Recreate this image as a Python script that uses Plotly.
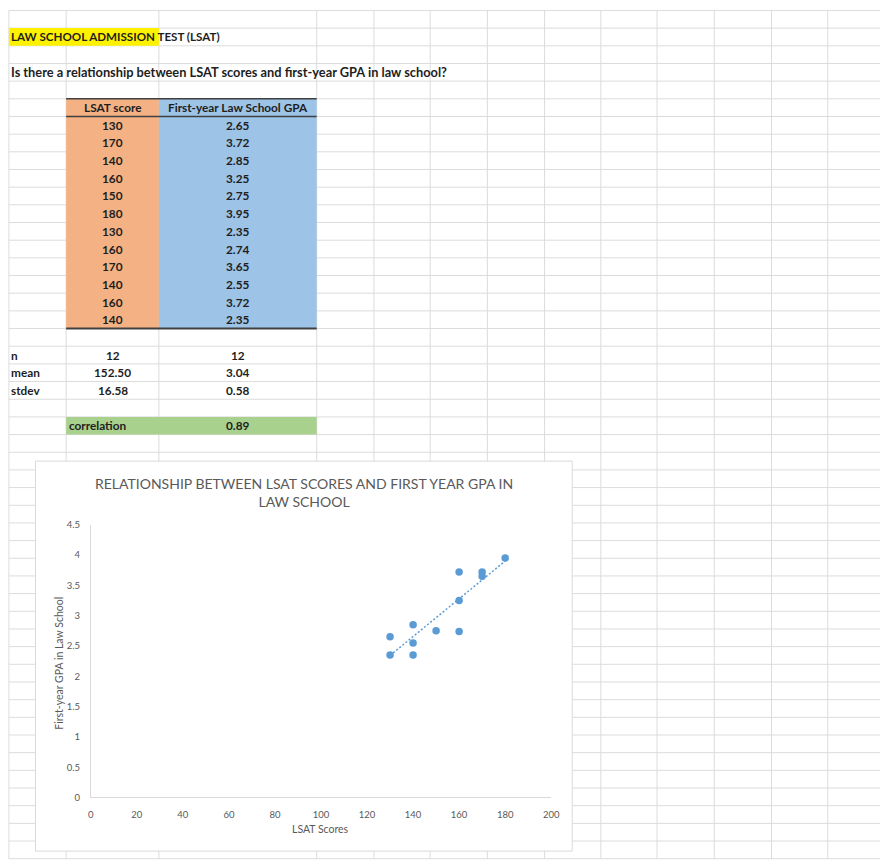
import numpy as np
import plotly.graph_objects as go

# ---------------- data ----------------
lsat_scores = [130, 170, 140, 160, 150, 180, 130, 160, 170, 140, 160, 140]
gpa_values = [2.65, 3.72, 2.85, 3.25, 2.75, 3.95, 2.35, 2.74, 3.65, 2.55, 3.72, 2.35]
header_labels = ["LSAT score", "First-year Law School GPA"]
stat_labels = ["n", "mean", "stdev"]
lsat_stats = ["12", "152.50", "16.58"]
gpa_stats = ["12", "3.04", "0.58"]
correlation_label = "correlation"
correlation_value = "0.89"
x_ticks = [0, 20, 40, 60, 80, 100, 120, 140, 160, 180, 200]
y_ticks = [0, 0.5, 1, 1.5, 2, 2.5, 3, 3.5, 4, 4.5]

sheet_title = "LAW SCHOOL ADMISSION TEST (LSAT)"
sheet_question = "Is there a relationship between LSAT scores and first-year GPA in law school?"
chart_title = "RELATIONSHIP BETWEEN LSAT SCORES AND FIRST YEAR GPA IN<br>LAW SCHOOL"
x_title = "LSAT Scores"
y_title = "First-year GPA in Law School"

# ---------------- geometry ----------------
W, H = 889, 864
FONT = "Lato, Carlito, Calibri, sans-serif"
col_edges = [6, 64, 158, 318, 376, 433, 491, 549, 606, 663, 721, 779, 836, 889]
row_top0 = 4.5
row_h = 17.9
n_rows = 48


def px(x):
    return x / W


def py(y):
    return 1 - y / H


def row_top(r):  # r is 1-based spreadsheet row
    return row_top0 + row_h * (r - 1)


def row_mid(r):
    return row_top(r) + row_h / 2


shapes = []
annotations = []

GRID = "#DCDCDC"
for r in range(1, n_rows + 2):
    y = row_top(r)
    if y > H:
        break
    shapes.append(dict(type="line", xref="paper", yref="paper", x0=px(col_edges[0]), x1=1,
                       y0=py(y), y1=py(y), line=dict(color=GRID, width=1), layer="below"))
for x in col_edges[:-1]:
    shapes.append(dict(type="line", xref="paper", yref="paper", x0=px(x), x1=px(x),
                       y0=py(row_top0), y1=0, line=dict(color=GRID, width=1), layer="below"))


def rect(x0, y0, x1, y1, fill, line_color=None, lw=0):
    shapes.append(dict(type="rect", xref="paper", yref="paper", x0=px(x0), x1=px(x1),
                       y0=py(y1), y1=py(y0), fillcolor=fill,
                       line=dict(color=line_color or fill, width=lw), layer="below"))


def hline(x0, x1, y, color, width):
    shapes.append(dict(type="line", xref="paper", yref="paper", x0=px(x0), x1=px(x1),
                       y0=py(y), y1=py(y), line=dict(color=color, width=width), layer="below"))


first_data_row = 7
last_data_row = first_data_row + len(lsat_scores) - 1

rect(col_edges[0], row_top(2), col_edges[2], row_top(3), "#FFF200")
rect(col_edges[1], row_top(6), col_edges[2], row_top(last_data_row + 1), "#F4B183")
rect(col_edges[2], row_top(6), col_edges[3], row_top(last_data_row + 1), "#9DC3E6")
rect(col_edges[1], row_top(24), col_edges[3], row_top(25), "#A9D18E")
hline(col_edges[1], col_edges[3], row_top(6), "#404040", 1.5)
hline(col_edges[1], col_edges[3], row_top(7), "#404040", 1.5)
hline(col_edges[1], col_edges[3], row_top(last_data_row + 1), "#404040", 2)

CX0, CY0, CX1, CY1 = 33, 461, 577, 856
rect(CX0, CY0, CX1, CY1, "white", "#D9D9D9", 1)

TXT = "#1E1E1E"


def text(x, y, s, xanchor="center", size=11.8, bold=True, color=TXT):
    annotations.append(dict(x=px(x), y=py(y), xref="paper", yref="paper", text=s,
                            showarrow=False, xanchor=xanchor, yanchor="middle",
                            font=dict(family=FONT, size=size, color=color,
                                      weight="bold" if bold else "normal")))


col_b_mid = (col_edges[1] + col_edges[2]) / 2
col_c_mid = (col_edges[2] + col_edges[3]) / 2

text(6, row_mid(2), sheet_title, "left", size=11.6)
text(6, row_mid(4), sheet_question, "left", size=12.8)
text(col_b_mid, row_mid(6), header_labels[0])
text(col_c_mid, row_mid(6), header_labels[1])
for i, (a, b) in enumerate(zip(lsat_scores, gpa_values)):
    r = first_data_row + i
    text(col_b_mid, row_mid(r), str(a))
    text(col_c_mid, row_mid(r), f"{b:.2f}")
for i, lab in enumerate(stat_labels):
    r = 20 + i
    text(6, row_mid(r), lab, "left")
    text(col_b_mid, row_mid(r), lsat_stats[i])
    text(col_c_mid, row_mid(r), gpa_stats[i])
text(col_edges[1] + 1, row_mid(24), correlation_label, "left")
text(col_c_mid, row_mid(24), correlation_value)

GRAYTXT = "#595959"
PX0, PX1 = 89, 555.7
PY_BOTTOM, PY_TOP = 801.7, 525.4
text((PX0 + PX1) / 2 - 17, 493, chart_title, size=14, bold=False, color=GRAYTXT)
text((PX0 + PX1) / 2, 834, x_title, size=10.5, bold=False, color=GRAYTXT)
annotations.append(dict(x=px(56), y=py(666), xref="paper", yref="paper",
                        text=y_title, showarrow=False, textangle=-90,
                        xanchor="center", yanchor="middle",
                        font=dict(family=FONT, size=10.5, color=GRAYTXT)))

# ---------------- traces ----------------
slope, intercept = np.polyfit(lsat_scores, gpa_values, 1)
trend_x = [min(lsat_scores), max(lsat_scores)]
trend_y = [slope * v + intercept for v in trend_x]

fig = go.Figure()
fig.add_trace(go.Scatter(x=trend_x, y=trend_y, mode="lines",
                         line=dict(color="#5B9BD5", width=1.5, dash="2px,2px"),
                         hoverinfo="skip", showlegend=False))
fig.add_trace(go.Scatter(x=lsat_scores, y=gpa_values, mode="markers",
                         marker=dict(color="#5B9BD5", size=7.5),
                         showlegend=False))

fig.update_layout(
    width=W, height=H,
    margin=dict(l=0, r=0, t=0, b=0),
    paper_bgcolor="white",
    plot_bgcolor="rgba(0,0,0,0)",
    shapes=shapes,
    annotations=annotations,
    showlegend=False,
    xaxis=dict(domain=[px(PX0), px(PX1)], range=[0, 200], tickvals=x_ticks,
               showgrid=False, zeroline=False, showline=True, linecolor="#D9D9D9",
               linewidth=1, ticks="", ticklabelstandoff=8,
               tickfont=dict(family=FONT, size=9.5, color=GRAYTXT), fixedrange=True),
    yaxis=dict(domain=[py(PY_BOTTOM), py(PY_TOP)], range=[0, 4.5], tickvals=y_ticks,
               showgrid=False, zeroline=False, showline=True, linecolor="#D9D9D9",
               linewidth=1, ticks="", ticklabelstandoff=8,
               tickfont=dict(family=FONT, size=9.5, color=GRAYTXT), fixedrange=True),
)

fig.write_html("out.html", config={"displayModeBar": False},
               post_script="document.body.style.margin='0';document.body.style.overflow='hidden';")
